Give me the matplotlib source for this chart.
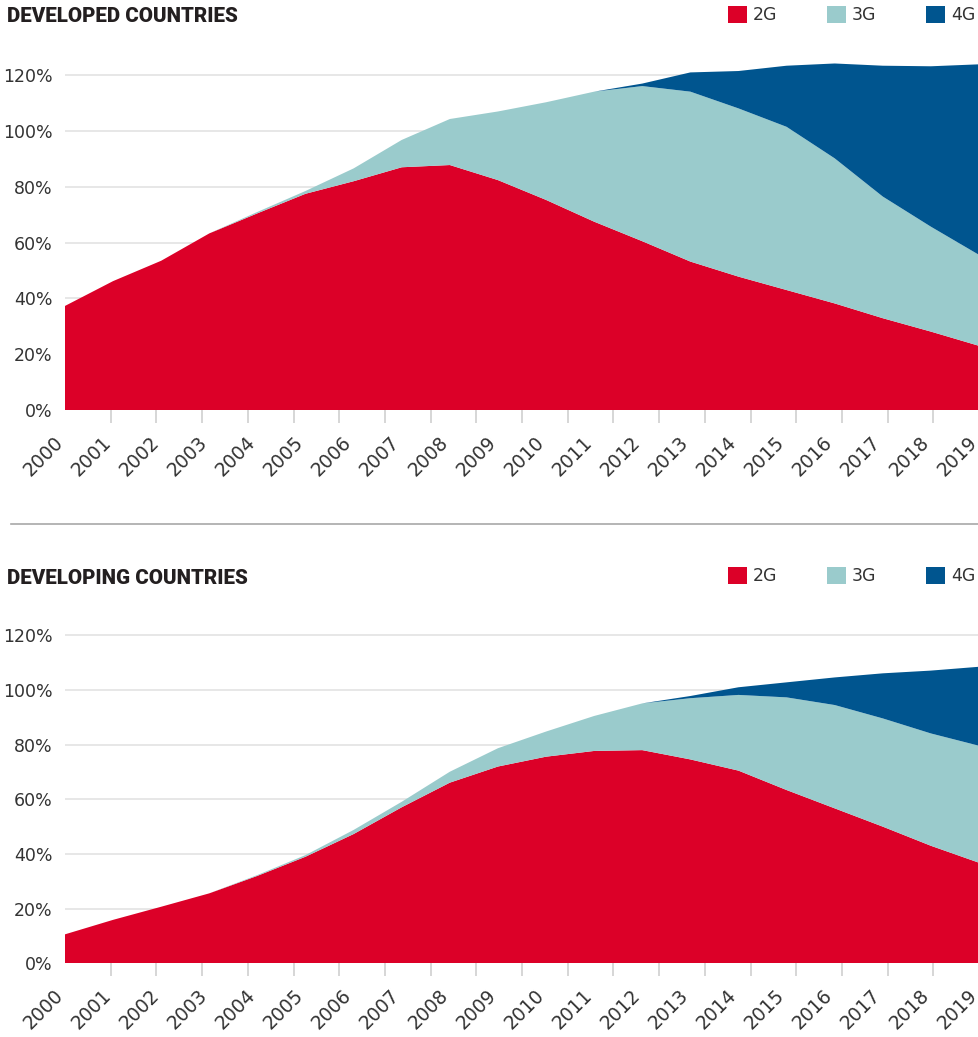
import numpy as np
import matplotlib
matplotlib.use('Agg')
import matplotlib.pyplot as plt
import matplotlib.transforms as mtransforms
from matplotlib.patches import Patch
from matplotlib.lines import Line2D

years = np.arange(2000, 2020)

# developed countries, % of population per technology (stacked)
dev_2g = [37.3, 46.2, 53.5, 63.3, 70.5, 77.5, 82.0, 87.0, 87.8, 82.4,
          75.3, 67.5, 60.5, 53.2, 47.8, 43.0, 38.2, 32.9, 28.1, 23.0]
dev_3g = [0.0, 0.0, 0.0, 0.0, 0.5, 1.0, 4.6, 9.8, 16.5, 24.6,
          35.0, 46.6, 55.6, 60.9, 60.3, 58.5, 52.0, 43.6, 37.6, 32.6]
dev_4g = [0.0, 0.0, 0.0, 0.0, 0.0, 0.0, 0.0, 0.0, 0.0, 0.0,
          0.0, 0.0, 0.9, 6.9, 13.4, 21.9, 34.0, 46.9, 57.5, 68.3]

# developing countries
dvg_2g = [10.6, 15.9, 20.7, 25.6, 32.0, 39.0, 47.3, 57.1, 66.1, 72.0,
          75.6, 77.7, 78.0, 74.6, 70.5, 63.4, 56.7, 50.0, 43.0, 36.8]
dvg_3g = [0.0, 0.0, 0.0, 0.0, 0.3, 0.6, 1.5, 2.0, 4.0, 6.7,
          9.2, 12.8, 17.1, 22.4, 27.7, 33.9, 37.8, 39.6, 41.1, 42.8]
dvg_4g = [0.0, 0.0, 0.0, 0.0, 0.0, 0.0, 0.0, 0.0, 0.0, 0.0,
          0.0, 0.0, 0.0, 0.8, 2.8, 5.5, 10.1, 16.5, 23.0, 28.9]

labels = ['2G', '3G', '4G']
colors = ['#dc0028', '#9acbcc', '#00558f']
y_ticks = [0, 20, 40, 60, 80, 100, 120]

plt.rcParams['font.family'] = ['DejaVu Sans']

W, H = 979, 1037
fig = plt.figure(figsize=(W / 100, H / 100), dpi=100)

TXT = '#333333'
# year labels sit a few pixels left of their data point
shift = mtransforms.ScaledTranslation(-5 / 100, 0, fig.dpi_scale_trans)


def draw_panel(axes_box, layers, title, title_y, legend_top):
    ax = fig.add_axes(axes_box)
    ax.stackplot(years, *layers, colors=colors, linewidth=0, antialiased=True)
    ax.set_xlim(2000, 2019)
    ax.set_ylim(0, 130)
    ax.set_yticks(y_ticks)
    ax.set_yticklabels(['{}%'.format(v) for v in y_ticks])
    ax.tick_params(axis='y', length=0, pad=9, labelsize=12.5, labelcolor=TXT)
    ax.grid(axis='y', color='#e3e3e3', linewidth=1.2)
    ax.set_axisbelow(True)

    # year labels on the data points, the small tick marks are spaced apart
    ax.set_xticks(years)
    ax.set_xticklabels([str(y) for y in years], rotation=45, ha='right',
                       va='center', rotation_mode='anchor')
    ax.tick_params(axis='x', which='major', length=0, pad=21,
                   labelsize=13.5, labelcolor=TXT)
    for lab in ax.get_xticklabels():
        lab.set_transform(lab.get_transform() + shift)
    ax.set_xticks(np.linspace(2000, 2019, 21), minor=True)
    ax.tick_params(axis='x', which='minor', length=9, width=1.2,
                   color='#d0d0d0', direction='out')
    for s in ax.spines.values():
        s.set_visible(False)

    fig.text(7 / W, 1 - title_y / H, title, fontsize=14.8,
             fontweight='black', family=['Roboto', 'DejaVu Sans'],
             color='#231f20', va='center', ha='left')

    handles = [Patch(facecolor=c, edgecolor='none') for c in colors]
    fig.legend(handles, labels, ncol=3, loc='upper left',
               bbox_to_anchor=(728 / W, 1 - legend_top / H),
               frameon=False, fontsize=12.5, labelcolor=TXT,
               handlelength=1.09, handleheight=1.09, handletextpad=0.35,
               columnspacing=2.85, borderpad=0, borderaxespad=0)
    return ax


draw_panel([65 / W, 1 - 410 / H, (W - 65) / W, 130 * 2.79 / H],
           [dev_2g, dev_3g, dev_4g], 'DEVELOPED COUNTRIES', 17, 6)
draw_panel([65 / W, 1 - 963.3 / H, (W - 65) / W, 130 * 2.733 / H],
           [dvg_2g, dvg_3g, dvg_4g], 'DEVELOPING COUNTRIES', 578, 567)

# separator between the two panels
fig.add_artist(Line2D([11 / W, 1], [1 - 524 / H, 1 - 524 / H],
                      color='#a8a8a8', linewidth=1.2))

plt.savefig('out.png', dpi=100)
